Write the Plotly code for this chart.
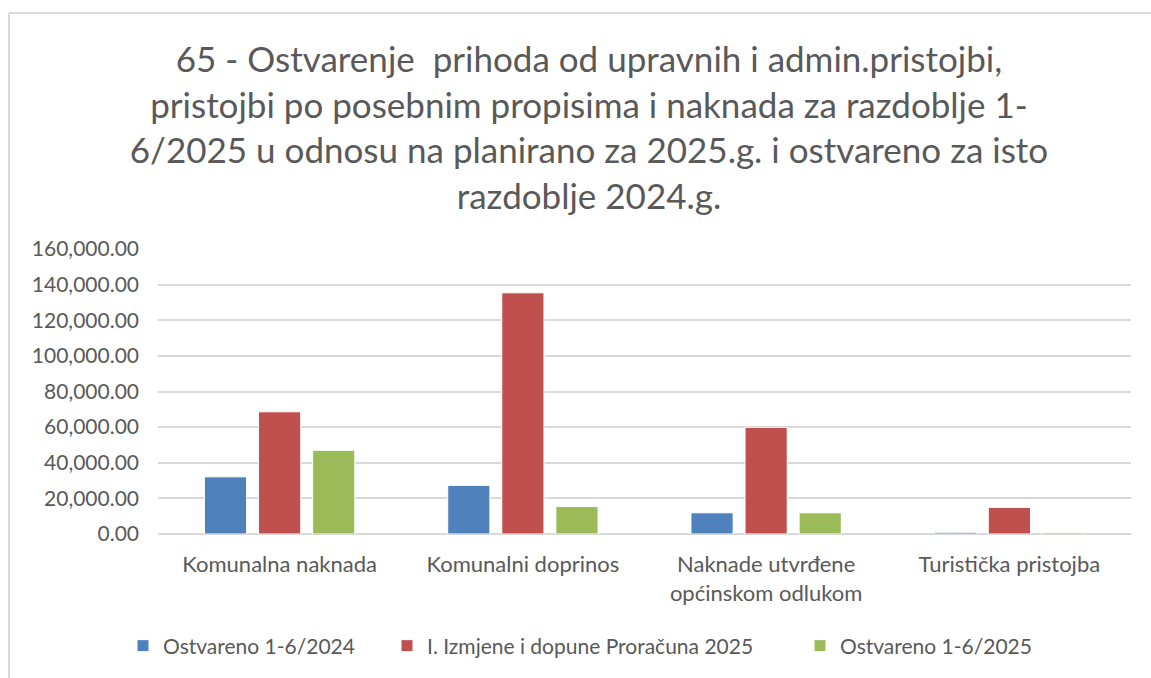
import plotly.graph_objects as go

categories = ["Komunalna naknada", "Komunalni doprinos", "Naknade utvrđene<br>općinskom odlukom", "Turistička pristojba"]
series_names = ["Ostvareno 1-6/2024", "I. Izmjene i dopune Proračuna 2025", "Ostvareno 1-6/2025"]
ostvareno_2024 = [32100, 27300, 11900, 950]
plan_2025 = [68600, 135400, 59900, 14900]
ostvareno_2025 = [47000, 15400, 11900, 900]
colors = ["#4F81BD", "#C0504D", "#9BBB59"]
title_text = ("65 - Ostvarenje  prihoda od upravnih i admin.pristojbi,<br>"
              "pristojbi po posebnim propisima i naknada za razdoblje 1-<br>"
              "6/2025 u odnosu na planirano za 2025.g. i ostvareno za isto<br>"
              "razdoblje 2024.g.")

FONT = "Lato"
GREY = "#595959"
W, H = 1151, 678
L, T, R, B = 158, 249, 20, 144
PW, PH = W - L - R, H - T - B

legend_ids = ["legend", "legend2", "legend3"]
legend_text_x = [163, 427, 840]   # px where each legend label starts

fig = go.Figure()
for name, vals, col, lid in zip(series_names, [ostvareno_2024, plan_2025, ostvareno_2025], colors, legend_ids):
    fig.add_trace(go.Bar(x=categories, y=vals, name=name, legend=lid,
                         marker=dict(color=col, line=dict(color="white", width=1))))

fig.update_layout(
    width=W, height=H,
    margin=dict(l=L, r=R, t=T, b=B, autoexpand=False),
    paper_bgcolor="white", plot_bgcolor="white",
    barmode="group", bargap=0.333, bargroupgap=0.22,
    font=dict(family=FONT, color=GREY, size=21),
    title=dict(text=title_text, x=589 / W, xanchor="center", y=1 - 72 / H, yanchor="top",
               font=dict(family=FONT, size=35, color=GREY)),
    showlegend=True,
)
for lid, tx in zip(legend_ids, legend_text_x):
    fig.update_layout({lid: dict(orientation="h", x=(tx - 40 - L) / PW, xanchor="left",
                                 y=-112 / PH, yanchor="middle", itemwidth=30,
                                 font=dict(family=FONT, size=21, color=GREY),
                                 bgcolor="rgba(0,0,0,0)")})

fig.update_yaxes(range=[0, 160000], dtick=20000, tickformat=",.2f", showgrid=True,
                 gridcolor="#D9D9D9", gridwidth=1.5, zeroline=True, zerolinecolor="#D9D9D9",
                 zerolinewidth=1.5, showline=False, ticks="", ticklabelstandoff=18,
                 tickfont=dict(size=21, color=GREY))
fig.update_xaxes(showline=False, ticks="", ticklabelstandoff=15, tickfont=dict(size=22, color=GREY))

# chart-area border (left and top edges visible)
fig.add_shape(type="line", xref="paper", yref="paper",
              x0=(9 - L) / PW, x1=(9 - L) / PW, y0=(T + PH - (H + 30)) / PH, y1=(T + PH - 13) / PH,
              line=dict(color="#D9D9D9", width=2), layer="below")
fig.add_shape(type="line", xref="paper", yref="paper",
              x0=(9 - L) / PW, x1=(W + 30 - L) / PW, y0=(T + PH - 13) / PH, y1=(T + PH - 13) / PH,
              line=dict(color="#D9D9D9", width=2), layer="below")

fig.write_html(
    "out.html",
    config={"displayModeBar": False},
    post_script="document.body.style.margin='0';document.body.style.overflow='hidden';"
                "document.documentElement.style.overflow='hidden';",
)
